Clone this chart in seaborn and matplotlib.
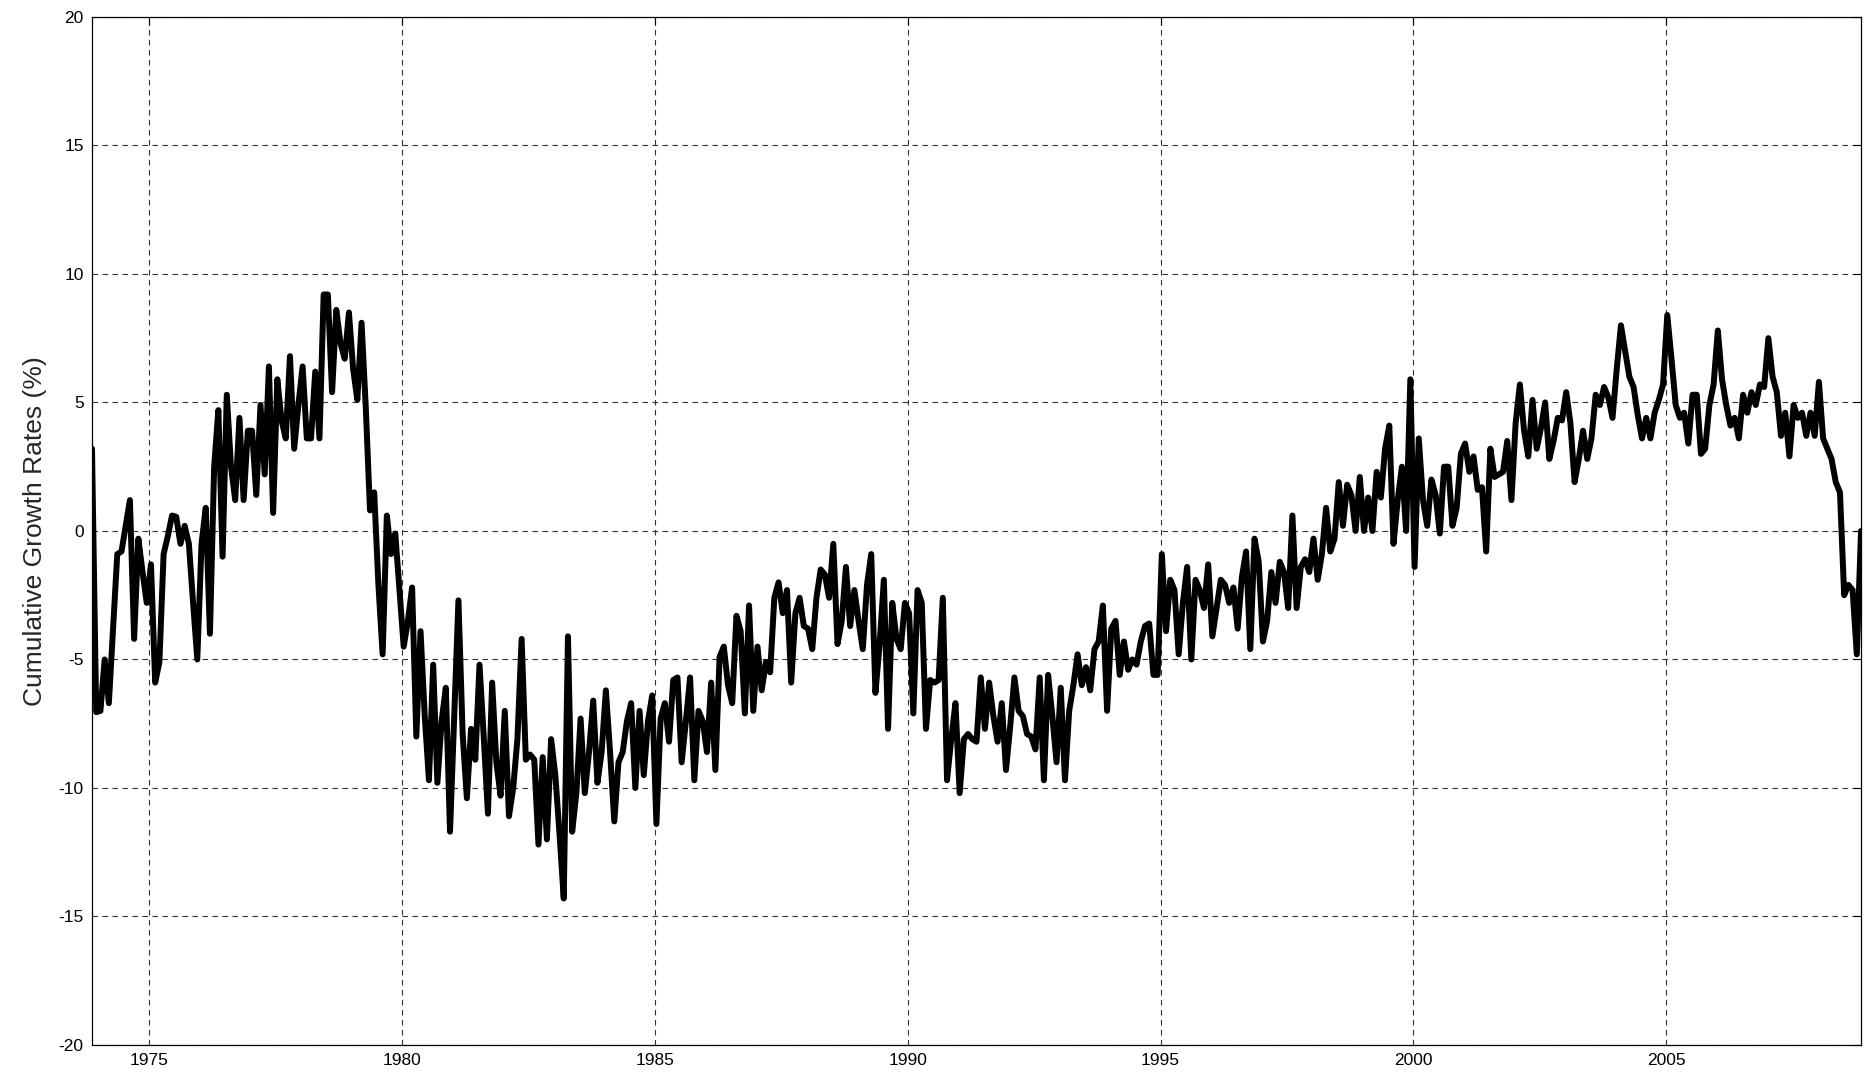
import numpy as np
import pandas as pd
import matplotlib
matplotlib.use("Agg")
import matplotlib.pyplot as plt
import seaborn as sns

# Monthly cumulative growth rates (%), in chronological chunks
rates_part1 = [3.2, -7.05, -7.0, -5.0, -6.7, -3.8, -0.9, -0.8, 0.2, 1.2, -4.2, -0.3, -1.6, -2.8, -1.3,
               -5.9, -5.1, -0.9, -0.2, 0.6, 0.55, -0.5, 0.2, -0.5, -2.8, -5.0, -0.5, 0.9, -4.0, 2.5,
               4.7, -1.0, 5.3, 2.5, 1.2, 4.4, 1.2, 3.9, 3.9, 1.4, 4.9, 2.2, 6.4, 0.7, 5.9, 4.3, 3.6,
               6.8, 3.2, 4.9, 6.4, 3.6, 3.6, 6.2, 3.6, 9.2, 9.2, 5.4, 8.6, 7.3, 6.7, 8.5, 6.3, 5.1,
               8.1, 4.8, 0.8, 1.5, -2.1, -4.8, 0.6, -0.9, -0.1, -2.3, -4.5, -3.5, -2.2, -8.0, -3.9,
               -7.2, -9.7]
rates_part2 = [-5.2, -9.8, -7.4, -6.1, -11.7, -7.2, -2.7, -7.9, -10.4, -7.7, -8.9, -5.2, -8.0, -11.0,
               -5.9, -9.0, -10.3, -7.0, -11.1, -10.0, -8.1, -4.2, -8.9, -8.7, -8.9, -12.2, -8.8,
               -12.0, -8.1, -9.5, -11.8, -14.3, -4.1, -11.7, -10.2, -7.3, -10.2, -8.6, -6.6, -9.8,
               -8.6, -6.2, -8.6, -11.3, -9.0, -8.6, -7.4, -6.7, -10.0, -7.0, -9.5, -7.4, -6.4, -11.4,
               -7.3, -6.7, -8.2, -5.8, -5.7, -9.0, -7.4, -5.7, -9.7, -7.0, -7.4, -8.6, -5.9, -9.3,
               -4.9, -4.5, -6.0, -6.7, -3.3, -3.9, -7.1, -2.9, -7.0, -4.5, -6.2, -5.1, -5.5, -2.6]
rates_part3 = [-2.0, -3.2, -2.3, -5.9, -3.2, -2.6, -3.7, -3.8, -4.6, -2.6, -1.5, -1.7, -2.6, -0.5,
               -4.4, -3.5, -1.4, -3.7, -2.3, -3.5, -4.6, -2.1, -0.9, -6.3, -4.4, -1.9, -7.7, -2.8,
               -4.2, -4.6, -2.8, -3.2, -7.1, -2.3, -2.8, -7.7, -5.8, -5.9, -5.8, -2.6, -9.7, -8.1,
               -6.7, -10.2, -8.1, -7.9, -8.1, -8.2, -5.7, -7.7, -5.9, -7.2, -8.2, -6.7, -9.3, -7.6,
               -5.7, -7.0, -7.2, -7.9, -8.0, -8.5, -5.7, -9.7, -5.6, -7.2, -9.0, -6.1, -9.7, -7.0,
               -6.0, -4.8, -6.0, -5.3, -6.2, -4.6, -4.3, -2.9, -7.0, -3.8, -3.5, -5.6, -4.3, -5.4]
rates_part4 = [-5.0, -5.2, -4.3, -3.7, -3.6, -5.6, -5.6, -0.9, -3.9, -1.9, -2.3, -4.8, -2.8,
               -1.4, -5.0, -1.9, -2.3, -3.0, -1.3, -4.1, -3.0, -1.9, -2.1, -2.8, -2.2, -3.8, -1.8,
               -0.8, -4.6, -0.3, -1.2, -4.3, -3.5, -1.6, -2.8, -1.2, -1.6, -3.0, 0.6, -3.0, -1.4,
               -1.1, -1.6, -0.3, -1.9, -0.9, 0.9, -0.8, -0.3, 1.9, 0.2, 1.8, 1.4, 0.0, 2.1,
               0.0, 1.3, 0.0, 2.3, 1.3, 3.2, 4.1, -0.5, 1.2, 2.5, 0.0, 5.9, -1.4, 3.6, 1.2, 0.2,
               2.0, 1.4, -0.1, 2.5, 2.5, 0.2, 0.9, 3.0, 3.4, 2.3, 2.9, 1.6, 1.7, -0.8, 3.2, 2.1]
rates_part5 = [2.2, 2.3, 3.5, 1.2, 4.2, 5.7, 3.9, 2.9, 5.1, 3.2, 4.0, 5.0, 2.8, 3.5, 4.4, 4.3, 5.4,
               4.2, 1.9, 2.8, 3.9, 2.8, 3.6, 5.3, 4.9, 5.6, 5.2, 4.4, 6.3, 8.0, 7.0, 6.0, 5.6, 4.5,
               3.6, 4.4, 3.6, 4.6, 5.1, 5.7, 8.4, 6.7, 4.9, 4.4, 4.6, 3.4, 5.3, 5.3, 3.0, 3.2,
               4.9, 5.7, 7.8, 5.9, 4.9, 4.1, 4.4, 3.6, 5.3, 4.6, 5.4, 4.9, 5.7, 5.6, 7.5, 6.0, 5.4,
               3.7, 4.6, 2.9, 4.9, 4.4, 4.6, 3.7, 4.6, 3.7, 5.8, 3.6, 3.2, 2.8, 1.9, 1.5, -2.5,
               -2.1, -2.3, -4.8, 0.0]

first_obs = 1973.87   # November 1973
last_obs = 2008.85    # November 2008
year_ticks = [1975, 1980, 1985, 1990, 1995, 2000, 2005]
value_ticks = [-20, -15, -10, -5, 0, 5, 10, 15, 20]

rates = np.array(rates_part1 + rates_part2 + rates_part3 + rates_part4 + rates_part5)
df = pd.DataFrame({
    "year": np.linspace(first_obs, last_obs, len(rates)),
    "rate": rates,
})

sns.set_style("white")
plt.rcParams["font.family"] = ["Liberation Sans", "DejaVu Sans"]

fig = plt.figure(figsize=(18.7, 10.76), dpi=100)
ax = fig.add_axes([0.0492, 0.0288, 0.9460, 0.9555])

sns.lineplot(data=df, x="year", y="rate", ax=ax, color="black", linewidth=4.3,
             estimator=None, sort=False)

ax.set_xlim(first_obs, last_obs)
ax.set_ylim(-20, 20)
ax.set_xticks(year_ticks)
ax.set_yticks(value_ticks)
ax.set_xticklabels([str(y) for y in year_ticks])
ax.set_yticklabels([str(v) for v in value_ticks])
ax.tick_params(axis="both", which="both", direction="in", length=6, width=0.8,
               labelsize=12.5, colors="black", top=True, right=True, pad=6)
ax.grid(True, color="#333333", linestyle=(0, (5, 4)), linewidth=0.8)
for spine in ax.spines.values():
    spine.set_visible(True)
    spine.set_color("black")
    spine.set_linewidth(0.9)

ax.set_xlabel("")
ax.set_ylabel("Cumulative Growth Rates (%)", fontsize=19, labelpad=8)

fig.savefig("out.png", dpi=100)
